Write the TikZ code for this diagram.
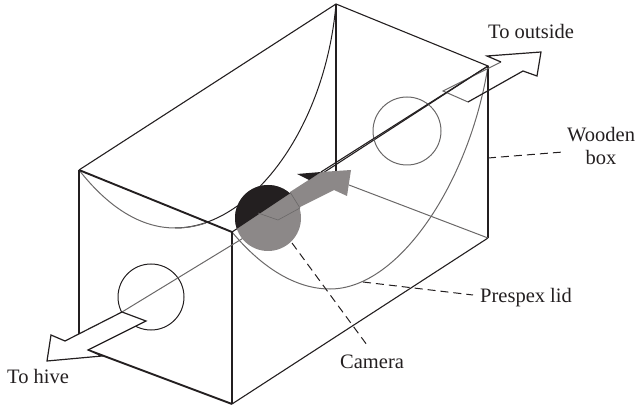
\documentclass[tikz,border=0pt]{standalone}
\usepackage{fontspec}
\setmainfont{Liberation Serif}
\definecolor{ink}{HTML}{231F20}
\definecolor{midgray}{HTML}{8C8888}
\definecolor{linegray}{HTML}{6A6868}
\tikzset{
  edge/.style={draw=ink,line width=1.1pt},
  thick edge/.style={draw=ink,line width=1.9pt},
  thin curve/.style={draw=linegray,line width=1pt},
  dark curve/.style={draw=ink,line width=1pt},
  arrow outline/.style={draw=ink,line width=1.2pt,fill=white,line join=miter},
  leader/.style={draw=ink,line width=1pt,dash pattern=on 8pt off 5pt},
  lab/.style={font=\fontsize{20.5}{23}\selectfont,text=ink,inner sep=0pt,align=center}
}
\begin{document}
\begin{tikzpicture}[x=1pt,y=-1pt]
\useasboundingbox (0,0) rectangle (640,406);
\coordinate (tl) at (79,170);
\coordinate (tb) at (336,4);
\coordinate (tr) at (488,66);
\coordinate (tf) at (232,232);
\coordinate (bf) at (232,404);
\coordinate (br) at (488,238);
\coordinate (ib) at (336,172);
% curves
\draw[dark curve] (175,228) .. controls (250,228) and (325,130) .. (tb);
\draw[thin curve] (tl) .. controls (112,212) and (145,228) .. (175,228) .. controls (187,228) and (197,226) .. (206,223);
\draw[thin curve] (tf) .. controls (262,268) and (296,289) .. (330,289) .. controls (400,289) and (470,180) .. (tr);
% box
\draw[edge] (tl) -- (tb) -- (tr) -- (tf);
\draw[thick edge] (tl) -- (tf);
\draw[thick edge] (tl) -- (79,335);
\draw[thick edge] (tf) -- (bf);
\draw[thick edge] (tb) -- (ib);
\draw[thick edge] (tr) -- (br);
\draw[edge] (bf) -- (br);
\draw[thin curve] (349,185) -- (br);
\draw[thick edge] (bf) -- (88,350);
% circles
\draw[dark curve] (151,297) circle (33);
\draw[thin curve] (407,131) circle (34);
% axis line
\draw[thin curve] (122,312) -- (245,237);
% camera
\fill[midgray] (268,218) circle (33);
\begin{scope}
\clip (200,150) -- (330,150) -- (292,192) -- (235,230) -- (200,250) -- cycle;
\fill[ink] (268,218) circle (33);
\end{scope}
\fill[midgray] (290,192) -- (321,172) -- (351,170) -- (347,196) -- (334,190) -- (298,208) -- cycle;
\fill[ink] (297,174) -- (321,172) -- (309,180) -- cycle;
\draw[draw=linegray,line width=0.6pt] (258,213) -- (278,220) -- (300,208);
\draw[draw=linegray,line width=0.6pt] (290,192) -- (300,208);
% arrows
\draw[arrow outline] (122,312) -- (146,321) -- (88,350) -- (102,356) -- (47,361) -- (51,335) -- (65,341) -- cycle;
\draw[thin curve] (501,62) -- (443,91) -- (468,102);
\draw[arrow outline,fill=none] (468,102) -- (523,71) -- (537,76) -- (541,52) -- (487,56) -- (501,62);
\draw[edge] (321,172) -- (tr);
% leaders
\coordinate (wb) at (563,152);
\coordinate (pl) at (473,295);
\coordinate (cm) at (367,345);
\draw[leader] (488,158) -- (wb);
\draw[leader] (363,282) -- (pl);
\draw[leader] (292,243) -- (cm);
% labels
\node[lab,anchor=base west] (t1) at (488,39) {To outside};
\node[lab,anchor=west] (t2) at (567,146) {Wooden\\box};
\node[lab,anchor=base west] (t3) at (480,302) {Prespex lid};
\node[lab,anchor=base west] (t4) at (340,368) {Camera};
\node[lab,anchor=base west] (t5) at (7,383) {To hive};
\end{tikzpicture}
\end{document}
